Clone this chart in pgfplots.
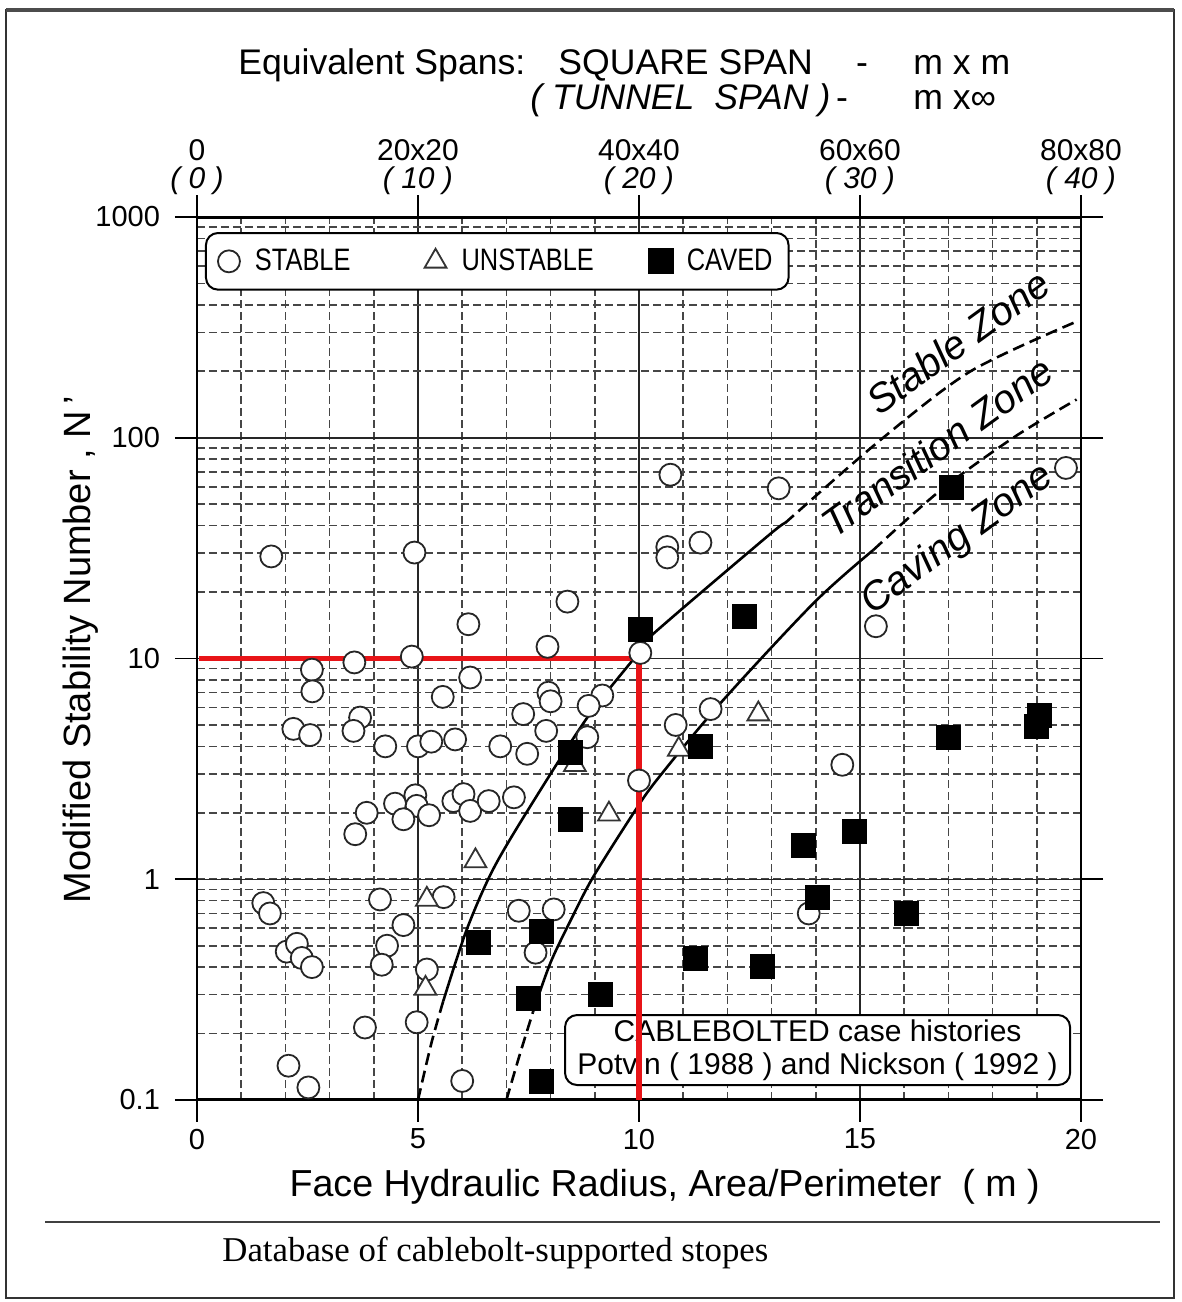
\documentclass[border=0pt]{standalone}
\usepackage{fontspec}
\setmainfont{Liberation Sans}
\newfontfamily\condsans{Liberation Sans}[FakeStretch=0.82]
\newfontfamily\capserif{Liberation Serif}
\usepackage{pgfplots}
\pgfplotsset{compat=1.18}
\definecolor{redline}{RGB}{232,20,24}
\definecolor{gridgray}{RGB}{70,70,70}

\begin{document}
\begin{tikzpicture}[x=1pt,y=1pt]
\useasboundingbox (0,0) rectangle (591,651);
% outer frame
\draw[line width=1pt,black!80] (3,2) rectangle (587,646);
\draw[line width=2pt,black!70] (3,646) -- (587,646);

% top scale (equivalent spans)
\begin{axis}[
    at={(98.5pt,101pt)}, anchor=south west,
    width=442pt, height=441.5pt, scale only axis,
    xmin=0, xmax=20, ymin=0.1, ymax=1000, ymode=log,
    axis x line*=top, hide y axis,
    axis line style={draw=none},
    xtick={0,5,10,15,20},
    xticklabels={{0\\\itshape( 0 )},{20x20\\\itshape( 10 )},{40x40\\\itshape( 20 )},{60x60\\\itshape( 30 )},{80x80\\\itshape( 40 )}},
    xticklabel style={align=center, font=\fontsize{15}{14}\selectfont, inner sep=0pt},
    tick align=outside, major tick length=11pt,
    tick style={line width=0.8pt, black},
]
\addplot[draw=none] coordinates {(1,1)};
\end{axis}

\begin{axis}[
    at={(98.5pt,101pt)}, anchor=south west,
    width=442pt, height=441.5pt, scale only axis,
    xmin=0, xmax=20, ymin=0.1, ymax=1000, ymode=log,
    xtick={0,5,10,15,20}, xticklabels={0,5,10,15,20},
    minor x tick num=4,
    ytick={0.1,1,10,100,1000}, yticklabels={0.1,1,10,100,1000},
    xtick pos=lower, ytick pos=both, yticklabel pos=lower,
    grid=both,
    major grid style={line width=0.75pt, black!85},
    minor grid style={line width=0.8pt, gridgray, dash pattern=on 4pt off 2pt},
    tick align=outside, major tick length=11pt, minor tick length=0pt,
    tick style={line width=0.8pt, black},
    axis line style={line width=1pt},
    ticklabel style={font=\fontsize{14.5}{16}\selectfont},
    yticklabel style={xshift=-4pt},
    /pgf/number format/assume math mode=true,
    xlabel={Face Hydraulic Radius, Area/Perimeter\ \ ( m )},
    xlabel style={at={(axis description cs:0.529,-0.0985)}, anchor=center, font=\fontsize{18.8}{20}\selectfont},
    ylabel={Modified Stability Number , N\,'},
    ylabel style={at={(axis description cs:-0.132,0.51)}, anchor=center, font=\fontsize{19}{20}\selectfont},
    legend columns=3,
    legend cell align=left,
    legend image code/.code={\path[draw=none,fill=none] (-5.5pt,0pt) -- (11pt,0pt); \draw[#1] plot coordinates {(0pt,0pt)};},
    legend style={at={(axis description cs:0.009,0.983)}, anchor=north west,
        draw=black, line width=1pt, rounded corners=6pt, fill=white,
        font=\condsans\fontsize{15.5}{18}\selectfont,
        inner xsep=6pt, inner ysep=6pt,
        /tikz/column 2/.style={column sep=35pt},
        /tikz/column 4/.style={column sep=25.5pt}},
]
\addplot[only marks, mark=*, mark size=5.5pt,
    mark options={fill=white, draw=black!85, line width=0.9pt}] coordinates {
(1.68,29.0) (4.92,30.2) (10.71,68) (13.16,59) (19.66,73) (10.64,32) (10.64,28.7) (11.39,33.5)
(8.38,18.1) (6.14,14.3) (7.93,11.3) (15.36,14.0) (10.03,10.6)
(2.60,8.9) (3.56,9.6) (4.86,10.2) (6.18,8.2) (2.61,7.1) (5.56,6.7) (7.95,7.0) (8.0,6.4) (9.17,6.8) (8.86,6.1) (7.38,5.6) (3.69,5.4)
(3.54,4.7) (2.18,4.8) (2.56,4.5) (7.9,4.7) (8.83,4.4) (4.26,4.0) (5.0,4.0) (5.3,4.2) (5.84,4.3) (6.86,4.0) (7.47,3.7)
(11.62,5.9) (10.83,5.0) (14.6,3.3) (10.0,2.8)
(3.84,2.0) (4.48,2.2) (4.94,2.4) (4.97,2.15) (4.67,1.87) (5.25,1.95) (5.8,2.26) (6.03,2.43) (6.18,2.04) (6.6,2.26) (7.17,2.35) (3.58,1.6)
(1.50,0.78) (1.65,0.70) (2.03,0.47) (2.26,0.51) (2.37,0.44) (2.6,0.40) (4.14,0.81) (4.67,0.62) (4.3,0.50) (4.18,0.41)
(5.58,0.83) (5.2,0.39) (4.97,0.225) (3.8,0.213) (2.07,0.143) (2.52,0.114) (6.0,0.122) (7.28,0.72) (8.07,0.73) (7.66,0.465) (13.84,0.70)
};
\addlegendentry{STABLE}
\addplot[only marks, mark=triangle*, mark size=6.3pt,
    mark options={fill=white, draw=black!80, line width=0.9pt}] coordinates {
(8.55,3.3) (6.3,1.21) (9.32,1.97) (10.9,3.87) (12.7,5.6) (5.2,0.81) (5.17,0.32)
};
\addlegendentry{UNSTABLE}
\addplot[only marks, mark=square*, mark size=6pt,
    mark options={fill=black, draw=black}] coordinates {
(10.03,13.5) (12.39,15.5) (17.06,59.5) (8.45,3.75) (8.45,1.87) (11.39,4.0) (17.0,4.4) (19.05,5.5) (18.98,4.9)
(13.72,1.42) (14.88,1.64) (14.03,0.83) (16.04,0.70) (11.28,0.44) (12.79,0.405)
(6.37,0.52) (7.8,0.58) (7.5,0.29) (9.13,0.30) (7.8,0.122)
};
\addlegendentry{CAVED\hspace{4pt}}

% stable / transition boundary
\addplot[black, line width=1.3pt, dash pattern=on 6pt off 3pt, smooth, forget plot] coordinates {
(5.0,0.1) (5.3,0.18) (5.57,0.28)};
\addplot[black, line width=1.3pt, smooth, forget plot] coordinates {
(5.57,0.28) (6.1,0.59) (6.7,1.11) (7.54,2.14) (8.83,5.4) (9.92,10.2) (10.26,12.6) (12.9,35.7) (13.3,41)};
\addplot[black, line width=1.3pt, dash pattern=on 6pt off 3pt, smooth, forget plot] coordinates {
(13.3,41) (15.47,98) (17.5,200) (19.9,336)};
% transition / caving boundary
\addplot[black, line width=1.3pt, dash pattern=on 6pt off 3pt, smooth, forget plot] coordinates {
(7.0,0.1) (7.3,0.16) (7.6,0.25)};
\addplot[black, line width=1.3pt, smooth, forget plot] coordinates {
(7.6,0.25) (8.0,0.42) (8.5,0.68) (8.97,1.03) (9.88,2.0) (10.41,2.83) (11.85,6.3) (13.96,17.9) (15.3,31)};
\addplot[black, line width=1.3pt, dash pattern=on 6pt off 3pt, smooth, forget plot] coordinates {
(15.3,31) (16.83,58) (18.5,101) (19.9,149)};

% thick top and bottom lines, longer left ticks
\draw[line width=1.8pt] (axis description cs:-0.03,0) -- (axis description cs:1.03,0);
\draw[line width=1.6pt] (axis description cs:-0.037,1) -- (axis description cs:1.023,1);
\pgfplotsinvokeforeach{1,10,100}{
  \draw[line width=0.8pt] ([xshift=-16pt]axis cs:0,#1) -- (axis cs:0,#1);
}

\node[draw, line width=1pt, rounded corners=6pt, fill=white, align=center,
    minimum width=252.5pt, minimum height=35pt, inner sep=2pt,
    font=\fontsize{15}{16.5}\selectfont] at (axis description cs:0.702,0.0566)
    {CABLEBOLTED case histories\\Potvin ( 1988 ) and Nickson ( 1992 )};

\addplot[redline, line width=2.6pt, forget plot] coordinates {(0.05,10) (10,10) (10,0.1)};
\end{axis}

% zone labels
\node[rotate=36, font=\itshape\fontsize{20}{22}\selectfont] at (479,480) {Stable Zone};
\node[rotate=36, font=\itshape\fontsize{20}{22}\selectfont] at (468.5,427.5) {Transition Zone};
\node[rotate=36, font=\itshape\fontsize{20}{22}\selectfont] at (479,381) {Caving Zone};

% heading
\begin{scope}[every node/.style={font=\fontsize{17.8}{20}\selectfont, inner sep=0pt}]
\node[anchor=base west] at (119,613.5) {Equivalent Spans:};
\node[anchor=base west] at (279,613.5) {SQUARE SPAN};
\node[anchor=base] at (431,613.5) {-};
\node[anchor=base west] at (456.5,613.5) {m x m};
\node[anchor=base west] at (265,596) {\itshape ( TUNNEL\ \ SPAN )};
\node[anchor=base] at (421,596) {-};
\node[anchor=base west] at (456.5,596) {m x∞};
\end{scope}

% caption
\draw[line width=1pt, black!75] (22.5,40) -- (580,40);
\node[anchor=base west, inner sep=0pt, font=\capserif\fontsize{17.4}{20}\selectfont] at (111,20) {Database of cablebolt-supported stopes};
\end{tikzpicture}
\end{document}
